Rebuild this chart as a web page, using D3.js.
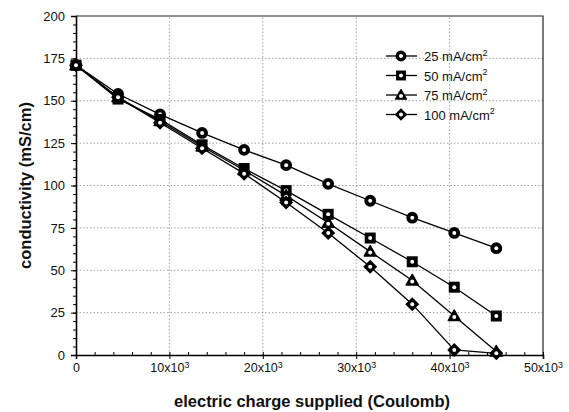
<!DOCTYPE html>
<html>
<head>
<meta charset="utf-8">
<script src="https://cdn.jsdelivr.net/npm/d3@7"></script>
<style>
  body { margin: 0; background: #fff; }
  svg text { font-family: "Liberation Sans", Arial, sans-serif; fill: #111; }
</style>
</head>
<body>
<svg id="chart" width="569" height="412"></svg>
<script>
// charge supplied (C) and conductivity (mS/cm) per current density
const charge = [0, 4500, 9000, 13500, 18000, 22500, 27000, 31500, 36000, 40500, 45000];
const c25 = [171, 154, 142, 131, 121, 112, 101, 91, 81, 72, 63];
const c50 = [171, 151, 139, 124, 110, 97, 83, 69, 55, 40, 23];
const c75 = [171, 152, 138, 123, 109, 94, 78, 61, 44, 23, 2];
const c100 = [171, 152, 137, 122, 107, 90, 72, 52, 30, 3, 1];
const seriesNames = ['25', '50', '75', '100'];
const xTicks = [0, 10000, 20000, 30000, 40000, 50000];
const yTicks = [0, 25, 50, 75, 100, 125, 150, 175, 200];

const series = [
  { name: seriesNames[0], values: c25, shape: 'circle' },
  { name: seriesNames[1], values: c50, shape: 'square' },
  { name: seriesNames[2], values: c75, shape: 'triangle' },
  { name: seriesNames[3], values: c100, shape: 'diamond' }
];

const margin = { left: 76, right: 26, top: 16, bottom: 57 };
const svg = d3.select('#chart');
const W = 569, H = 412;
const x = d3.scaleLinear().domain([0, 50000]).range([margin.left, W - margin.right]);
const y = d3.scaleLinear().domain([0, 200]).range([H - margin.bottom, margin.top]);

// grid
const grid = svg.append('g').attr('stroke', '#888').attr('stroke-width', 0.8).attr('stroke-dasharray', '1.5,2');
grid.selectAll('.gy').data(yTicks.filter(d => d > 0 && d < 200)).join('line')
  .attr('x1', x(0)).attr('x2', x(50000)).attr('y1', d => y(d)).attr('y2', d => y(d));
grid.selectAll('.gx').data(xTicks.filter(d => d > 0 && d < 50000)).join('line')
  .attr('y1', y(0)).attr('y2', y(200)).attr('x1', d => x(d)).attr('x2', d => x(d));

// frame top/right
svg.append('path')
  .attr('d', `M${x(0)},${y(200)}H${x(50000)}V${y(0)}`)
  .attr('fill', 'none').attr('stroke', '#222').attr('stroke-width', 1.2);

// y axis
const yAxis = svg.append('g').attr('transform', `translate(${x(0)},0)`)
  .call(d3.axisLeft(y).tickValues(yTicks).tickSize(5).tickPadding(6));
yAxis.select('.domain').attr('stroke-width', 1.6);
yAxis.selectAll('text').attr('font-size', 13);
svg.append('g').attr('transform', `translate(${x(0)},0)`)
  .call(d3.axisLeft(y).tickValues(d3.range(0, 201, 5)).tickSize(3).tickFormat(''))
  .select('.domain').remove();

// x axis
const sup = { 0: '0', 10000: '10x10', 20000: '20x10', 30000: '30x10', 40000: '40x10', 50000: '50x10' };
const xAxis = svg.append('g').attr('transform', `translate(0,${y(0)})`)
  .call(d3.axisBottom(x).tickValues(xTicks).tickSize(4).tickPadding(8).tickFormat(''));
xAxis.select('.domain').attr('stroke-width', 1.6);
xAxis.selectAll('.tick').append('text')
  .attr('y', 17).attr('text-anchor', 'middle').attr('font-size', 12.5).attr('fill', '#111')
  .each(function (d) {
    const t = d3.select(this);
    t.append('tspan').text(sup[d]);
    if (d > 0) t.append('tspan').attr('dy', -4).attr('font-size', 9).text('3');
  });
svg.append('g').attr('transform', `translate(0,${y(0)})`)
  .call(d3.axisTop(x).tickValues(d3.range(0, 50001, 2000)).tickSize(3).tickFormat(''))
  .select('.domain').remove();

// axis titles
svg.append('text').attr('x', 312).attr('y', 407).attr('text-anchor', 'middle')
  .attr('font-size', 16.5).attr('font-weight', 'bold').text('electric charge supplied (Coulomb)');
svg.append('text').attr('transform', `translate(31,${y(100)}) rotate(-90)`).attr('text-anchor', 'middle')
  .attr('font-size', 16.5).attr('font-weight', 'bold').text('conductivity (mS/cm)');

function marker(g, shape, k) {
  if (shape === 'circle') {
    g.append('circle').attr('r', 4.4 * k).attr('fill', '#000').attr('stroke', '#000').attr('stroke-width', 3);
  } else if (shape === 'square') {
    g.append('rect').attr('x', -5.5 * k).attr('y', -5.5 * k).attr('width', 11 * k).attr('height', 11 * k)
      .attr('fill', '#000');
  } else if (shape === 'triangle') {
    g.append('path').attr('d', 'M0,-6L6,4.5H-6Z').attr('transform', `scale(${k})`)
      .attr('fill', '#000').attr('stroke', '#000').attr('stroke-width', 1.5).attr('stroke-linejoin', 'round');
  } else {
    g.append('path').attr('d', 'M0,-7L7,0L0,7L-7,0Z').attr('transform', `scale(${k})`)
      .attr('fill', '#000');
  }
  g.append('circle').attr('r', 2).attr('cy', shape === 'triangle' ? 1 : 0).attr('fill', '#fff');
}

const line = d3.line().x((d, i) => x(charge[i])).y(d => y(d));
series.forEach(s => {
  svg.append('path').datum(s.values).attr('d', line)
    .attr('fill', 'none').attr('stroke', '#000').attr('stroke-width', 1.3);
});
series.forEach(s => {
  svg.append('g').selectAll('g').data(s.values).join('g')
    .attr('transform', (d, i) => `translate(${x(charge[i])},${y(d)})`)
    .each(function () { marker(d3.select(this), s.shape, 1); });
});

// legend
const legend = svg.append('g').attr('transform', 'translate(386,56)');
series.forEach((s, i) => {
  const g = legend.append('g').attr('transform', `translate(0,${i * 19.5})`);
  g.append('line').attr('x1', 0).attr('x2', 31).attr('stroke', '#000').attr('stroke-width', 1.3);
  marker(g.append('g').attr('transform', 'translate(15,0)'), s.shape, 0.9);
  const t = g.append('text').attr('x', 38).attr('y', 5).attr('font-size', 13);
  t.append('tspan').text(s.name + ' mA/cm');
  t.append('tspan').attr('dy', -5.5).attr('font-size', 9).text('2');
});
</script>
</body>
</html>
